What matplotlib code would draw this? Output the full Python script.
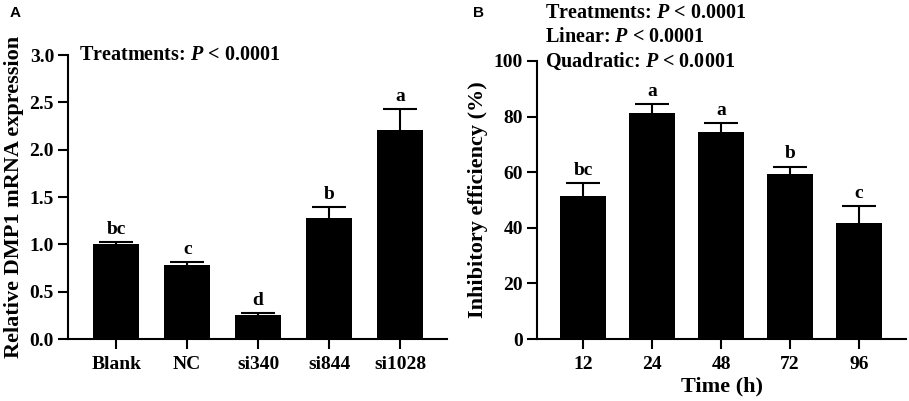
import matplotlib
matplotlib.use("Agg")
import matplotlib.pyplot as plt
import numpy as np

# Panel A data
a_categories = ["Blank", "NC", "si340", "si844", "si1028"]
a_values = [1.00, 0.785, 0.25, 1.275, 2.205]
a_errors = [0.025, 0.03, 0.025, 0.12, 0.22]
a_letters = ["bc", "c", "d", "b", "a"]
a_yticks = [0.0, 0.5, 1.0, 1.5, 2.0, 2.5, 3.0]

# Panel B data
b_categories = ["12", "24", "48", "72", "96"]
b_values = [51.5, 81.4, 74.3, 59.4, 41.6]
b_errors = [4.7, 3.2, 3.3, 2.6, 6.2]
b_letters = ["bc", "a", "a", "b", "c"]
b_yticks = [0, 20, 40, 60, 80, 100]

plt.rcParams['font.family'] = ['Liberation Serif', 'DejaVu Serif']
plt.rcParams['font.weight'] = 'bold'
plt.rcParams['mathtext.fontset'] = 'custom'
plt.rcParams['mathtext.rm'] = 'Liberation Serif:bold'
plt.rcParams['mathtext.it'] = 'Liberation Serif:italic:bold'
plt.rcParams['mathtext.bf'] = 'Liberation Serif:bold'

fig = plt.figure(figsize=(9.09, 4.01), dpi=100)
axA = fig.add_axes([0.0748, 0.1546, 0.4917 - 0.0748, 0.8628 - 0.1546])
axB = fig.add_axes([0.5908, 0.1546, 0.9967 - 0.5908, 0.8479 - 0.1546])

def style(ax):
    for s in ['top', 'right']:
        ax.spines[s].set_visible(False)
    for s in ['left', 'bottom']:
        ax.spines[s].set_linewidth(1.5)
    ax.tick_params(axis='both', direction='out', length=7, width=1.5,
                   labelsize=14)
    ax.tick_params(axis='x', pad=5)
    ax.tick_params(axis='y', pad=3)
    for lab in ax.get_xticklabels() + ax.get_yticklabels():
        lab.set_fontweight('bold')

def draw(ax, cats, vals, errs, letters, width):
    x = np.arange(len(cats))
    ax.errorbar(x, vals, yerr=errs, fmt='none',
                ecolor='black', elinewidth=1.5, capsize=12, capthick=1.5, zorder=1)
    ax.bar(x, vals, width=width, color='black', zorder=2)
    for xi, v, e, l in zip(x, vals, errs, letters):
        ax.annotate(l, (xi, v + e), xytext=(0, 3), textcoords='offset points',
                    ha='center', va='bottom', fontsize=14, fontweight='bold')
    ax.set_xticks(x)
    ax.set_xticklabels(cats)

draw(axA, a_categories, a_values, a_errors, a_letters, 0.65)
axA.set_xlim(-0.68, 4.66)
axA.set_ylim(0, 3.0)
axA.set_yticks(a_yticks)
axA.set_yticklabels([f"{t:.1f}" for t in a_yticks])
axA.set_ylabel("Relative DMP1 mRNA expression", fontsize=16, fontweight='bold', labelpad=4)
style(axA)
axA.text(0.03, 1.0, "Treatments: $P$ < 0.0001", transform=axA.transAxes,
         fontsize=14.5, fontweight='bold', ha='left', va='center')

draw(axB, b_categories, b_values, b_errors, b_letters, 0.67)
axB.set_xlim(-0.67, 4.68)
axB.set_ylim(0, 100)
axB.set_yticks(b_yticks)
axB.set_ylabel("Inhibitory efficiency (%)", fontsize=16, fontweight='bold', labelpad=4)
axB.set_xlabel("Time (h)", fontsize=16, fontweight='bold', labelpad=3)
style(axB)
for i, t in enumerate(["Treatments: $P$ < 0.0001", "Linear: $P$ < 0.0001",
                       "Quadratic: $P$ < 0.0001"]):
    fig.text(545 / 909, 1 - (13 + 24 * i) / 401, t, fontsize=14.5, fontweight='bold',
             ha='left', va='center')

fig.text(10 / 909, 1 - 13 / 401, "A", fontsize=11, fontweight='bold',
         family='Liberation Sans', ha='left', va='center')
fig.text(473 / 909, 1 - 13 / 401, "B", fontsize=11, fontweight='bold',
         family='Liberation Sans', ha='left', va='center')

fig.savefig("out.png", dpi=100)
